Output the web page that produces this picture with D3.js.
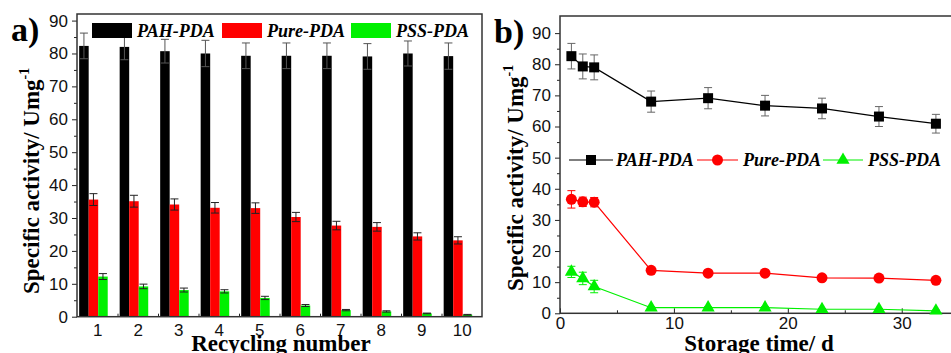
<!DOCTYPE html>
<html>
<head>
<meta charset="utf-8">
<script src="https://cdn.jsdelivr.net/npm/d3@7"></script>
<style>
  body { margin: 0; background: #fff; }
  svg { display: block; }
</style>
</head>
<body>
<div id="chart"></div>
<script>
// panel a: recycling
const recycling = [1, 2, 3, 4, 5, 6, 7, 8, 9, 10];
const aPAH = [82.3, 82.0, 80.7, 80.0, 79.3, 79.3, 79.3, 79.1, 80.0, 79.2];
const aPAHErr = [3.9, 3.9, 3.6, 4.0, 3.9, 3.9, 3.9, 3.9, 3.8, 4.0];
const aPure = [35.6, 35.1, 34.1, 33.1, 33.0, 30.3, 27.7, 27.3, 24.4, 23.2];
const aPureErr = [1.8, 1.8, 1.7, 1.6, 1.6, 1.4, 1.3, 1.3, 1.1, 1.1];
const aPSS = [12.2, 9.2, 8.1, 7.7, 5.7, 3.4, 2.0, 1.6, 1.0, 0.6];
const aPSSErr = [0.9, 0.7, 0.6, 0.5, 0.5, 0.3, 0.2, 0.2, 0.1, 0.1];

// panel b: storage
const days = [1, 2, 3, 8, 13, 18, 23, 28, 33];
const bPAH = [82.6, 79.3, 79.0, 68.0, 69.1, 66.7, 65.8, 63.2, 60.9];
const bPAHErr = [4.1, 4.0, 4.0, 3.4, 3.4, 3.3, 3.3, 3.2, 3.0];
const bPure = [36.6, 35.8, 35.7, 13.8, 12.9, 12.9, 11.4, 11.3, 10.6];
const bPureErr = [2.8, 1.5, 1.5, 0.6, 0.5, 0.5, 0.5, 0.5, 0.5];
const bPSS = [13.3, 11.2, 8.6, 1.8, 1.8, 1.8, 1.3, 1.3, 0.8];
const bPSSErr = [1.8, 2.0, 2.0, 0.3, 0.3, 0.3, 0.2, 0.2, 0.2];

const seriesNames = ["PAH-PDA", "Pure-PDA", "PSS-PDA"];
const colors = ["#000000", "#ff0000", "#00f000"];

const width = 951, height = 353;
const svg = d3.select("#chart").append("svg")
  .attr("width", width).attr("height", height);

const tickFont = "Liberation Sans";
const serif = "Liberation Serif";

function styleAxis(g) {
  g.select(".domain").remove();
  g.selectAll("line").attr("stroke", "#222").attr("stroke-width", 1);
  g.selectAll("text").attr("font-family", tickFont).attr("font-size", 17).attr("fill", "#111");
}

// ---------- panel a ----------
const xa = d3.scaleLinear().domain([0.5, 10.5]).range([77, 482]);
const ya = d3.scaleLinear().domain([0, 92]).range([316.7, 14]);
const step = xa(2) - xa(1);
const bw = step * 0.235;

const ga = svg.append("g");

const aSeries = [
  {vals: aPAH, err: aPAHErr},
  {vals: aPure, err: aPureErr},
  {vals: aPSS, err: aPSSErr}
];

aSeries.forEach((s, k) => {
  const off = (k - 1.4) * bw;
  ga.append("g").selectAll("rect")
    .data(recycling)
    .join("rect")
    .attr("x", (d, i) => xa(d) + off - bw / 2)
    .attr("y", (d, i) => ya(s.vals[i]))
    .attr("width", bw)
    .attr("height", (d, i) => ya(0) - ya(s.vals[i]))
    .attr("fill", colors[k]);
  const eb = ga.append("g").attr("stroke", k === 0 ? "#555" : "#222").attr("stroke-width", 1);
  recycling.forEach((d, i) => {
    const cx = xa(d) + off;
    const top = ya(s.vals[i] + s.err[i]);
    const bot = ya(s.vals[i] - s.err[i]);
    eb.append("line").attr("x1", cx).attr("x2", cx).attr("y1", top).attr("y2", bot);
    eb.append("line").attr("x1", cx - 4).attr("x2", cx + 4).attr("y1", top).attr("y2", top);
    eb.append("line").attr("x1", cx - 4).attr("x2", cx + 4).attr("y1", bot).attr("y2", bot);
  });
});

// axes a
ga.append("g").attr("transform", `translate(${xa.range()[0]},0)`)
  .call(d3.axisLeft(ya).tickValues(d3.range(0, 91, 10)).tickSize(5).tickPadding(4))
  .call(styleAxis);
ga.append("g").attr("transform", `translate(${xa.range()[0]},0)`)
  .call(d3.axisLeft(ya).tickValues(d3.range(5, 91, 10)).tickSize(3).tickFormat(""))
  .call(styleAxis);
ga.append("g").attr("transform", `translate(0,${ya(0)})`)
  .call(d3.axisBottom(xa).tickValues(recycling).tickSize(0).tickPadding(7))
  .call(styleAxis);
ga.append("g").attr("transform", `translate(0,${ya(0)})`)
  .call(d3.axisTop(xa).tickValues(d3.range(1.5, 10.5, 1)).tickSize(3).tickFormat(""))
  .call(styleAxis);

ga.append("rect")
  .attr("x", xa.range()[0]).attr("y", ya.range()[1])
  .attr("width", xa.range()[1] - xa.range()[0])
  .attr("height", ya.range()[0] - ya.range()[1])
  .attr("fill", "none").attr("stroke", "#333").attr("stroke-width", 1.5);

// legend a
const legA = [{x: 92, tx: 137}, {x: 222, tx: 267}, {x: 351, tx: 396}];
legA.forEach((p, k) => {
  ga.append("rect").attr("x", p.x).attr("y", 23).attr("width", 40).attr("height", 15)
    .attr("fill", colors[k]);
  ga.append("text").attr("x", p.tx).attr("y", 36.5)
    .attr("font-family", serif).attr("font-size", 18)
    .attr("font-weight", "bold").attr("font-style", "italic")
    .text(seriesNames[k]);
});

ga.append("text").attr("x", 11).attr("y", 41)
  .attr("font-family", serif).attr("font-size", 34).attr("font-weight", "bold").text("a)");

ga.append("text")
  .attr("transform", "translate(39,294) rotate(-90)")
  .attr("font-family", serif).attr("font-size", 23).attr("font-weight", "bold")
  .html("Specific activity/ Umg<tspan dy='-10' font-size='14'>-1</tspan>");

ga.append("text").attr("x", 281).attr("y", 351).attr("text-anchor", "middle")
  .attr("font-family", serif).attr("font-size", 23).attr("font-weight", "bold")
  .text("Recycling number");

// ---------- panel b ----------
const xb = d3.scaleLinear().domain([0, 34.5]).range([560, 953]);
const yb = d3.scaleLinear().domain([0, 95.5]).range([313.3, 16]);
const gb = svg.append("g");

gb.append("g").attr("transform", `translate(${xb.range()[0]},0)`)
  .call(d3.axisLeft(yb).tickValues(d3.range(0, 91, 10)).tickSize(5).tickPadding(4))
  .call(styleAxis);
gb.append("g").attr("transform", `translate(${xb.range()[0]},0)`)
  .call(d3.axisLeft(yb).tickValues(d3.range(5, 91, 10)).tickSize(3).tickFormat(""))
  .call(styleAxis);
gb.append("g").attr("transform", `translate(0,${yb(0)})`)
  .call(d3.axisTop(xb).tickValues([0, 10, 20, 30]).tickSize(5).tickFormat(""))
  .call(styleAxis);
gb.append("g").attr("transform", `translate(0,${yb(0)})`)
  .call(d3.axisBottom(xb).tickValues([0, 10, 20, 30]).tickSize(0).tickPadding(4))
  .call(styleAxis);
gb.append("g").attr("transform", `translate(0,${yb(0)})`)
  .call(d3.axisTop(xb).tickValues([5, 15, 25]).tickSize(3).tickFormat(""))
  .call(styleAxis);

gb.append("rect")
  .attr("x", xb.range()[0]).attr("y", yb.range()[1])
  .attr("width", xb.range()[1] - xb.range()[0])
  .attr("height", yb.range()[0] - yb.range()[1])
  .attr("fill", "none").attr("stroke", "#333").attr("stroke-width", 1.5);

const bSeries = [
  {vals: bPAH, err: bPAHErr, shape: d3.symbolSquare, size: 100, ebColor: "#666"},
  {vals: bPure, err: bPureErr, shape: d3.symbolCircle, size: 95, ebColor: "#ff0000"},
  {vals: bPSS, err: bPSSErr, shape: d3.symbolTriangle, size: 75, ebColor: "#00f000"}
];

const line = d3.line();
bSeries.forEach((s, k) => {
  const pts = days.map((d, i) => [xb(d), yb(s.vals[i])]);
  const eb = gb.append("g").attr("stroke", s.ebColor).attr("stroke-width", 1);
  days.forEach((d, i) => {
    const cx = xb(d);
    const top = yb(s.vals[i] + s.err[i]);
    const bot = yb(s.vals[i] - s.err[i]);
    eb.append("line").attr("x1", cx).attr("x2", cx).attr("y1", top).attr("y2", bot);
    eb.append("line").attr("x1", cx - 4).attr("x2", cx + 4).attr("y1", top).attr("y2", top);
    eb.append("line").attr("x1", cx - 4).attr("x2", cx + 4).attr("y1", bot).attr("y2", bot);
  });
  gb.append("path").attr("d", line(pts)).attr("fill", "none")
    .attr("stroke", colors[k]).attr("stroke-width", 1.2);
  gb.append("g").selectAll("path")
    .data(pts)
    .join("path")
    .attr("transform", d => `translate(${d[0]},${d[1]})`)
    .attr("d", d3.symbol().type(s.shape).size(s.size))
    .attr("fill", colors[k]);
});

// legend b
const legB = [{x1: 569, x2: 613, tx: 616}, {x1: 697, x2: 738, tx: 743}, {x1: 823, x2: 863, tx: 868}];
legB.forEach((p, k) => {
  gb.append("line").attr("x1", p.x1).attr("x2", p.x2).attr("y1", 160).attr("y2", 160)
    .attr("stroke", colors[k]).attr("stroke-width", 1.2);
  gb.append("path").attr("transform", `translate(${(p.x1 + p.x2) / 2},160)`)
    .attr("d", d3.symbol().type(bSeries[k].shape).size(bSeries[k].size))
    .attr("fill", colors[k]);
  gb.append("text").attr("x", p.tx).attr("y", 166)
    .attr("font-family", serif).attr("font-size", 18)
    .attr("font-weight", "bold").attr("font-style", "italic")
    .text(seriesNames[k]);
});

gb.append("text").attr("x", 494).attr("y", 43)
  .attr("font-family", serif).attr("font-size", 34).attr("font-weight", "bold").text("b)");

gb.append("text")
  .attr("transform", "translate(523,291) rotate(-90)")
  .attr("font-family", serif).attr("font-size", 23).attr("font-weight", "bold")
  .html("Specific activity/ Umg<tspan dy='-10' font-size='14'>-1</tspan>");

gb.append("text").attr("x", 759).attr("y", 351).attr("text-anchor", "middle")
  .attr("font-family", serif).attr("font-size", 23).attr("font-weight", "bold")
  .text("Storage time/ d");
</script>
</body>
</html>
